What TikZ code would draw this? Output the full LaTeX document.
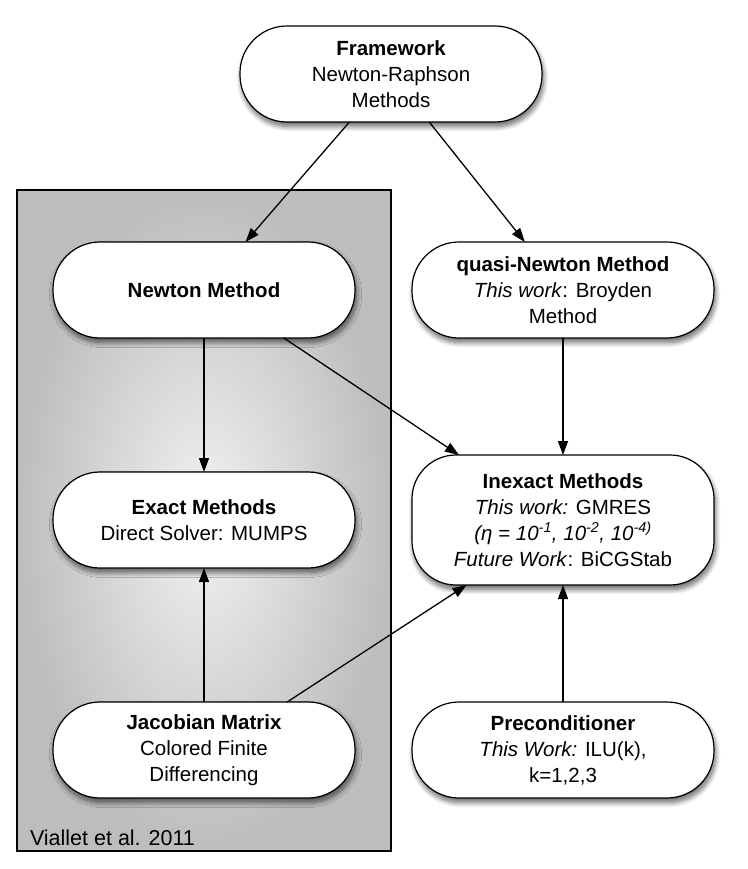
\documentclass[tikz,border=0pt]{standalone}
\usepackage{fontspec}
\setmainfont{Liberation Sans}
\usetikzlibrary{arrows.meta,shadows.blur}
\begin{document}
\begin{tikzpicture}[x=1pt,y=-1pt,
  every node/.style={inner sep=0pt,outer sep=0pt},
  pill/.style={draw=black,line width=1.2pt,fill=white,rounded corners=47pt,
    minimum width=302pt,minimum height=96pt,align=center,
    font=\fontsize{20.5}{26}\selectfont,
    blur shadow={shadow xshift=1.5pt,shadow yshift=-4.5pt,shadow blur radius=5pt,shadow blur steps=10,shadow opacity=60}},
  tallpill/.style={pill,minimum height=130pt,rounded corners=44pt},
  conn/.style={line width=1.3pt,-{Triangle[length=14pt,width=10pt]}},
  region/.style={draw=black,line width=1.2pt,inner color=gray!10,outer color=gray!52}
]
\useasboundingbox (0,0) rectangle (747,869);
\path[region] (17,190) rectangle (391,851);
\node[anchor=base west,font=\fontsize{21.5}{24}\selectfont] (lbl) at (30,845) {Viallet et al. 2011};

\node[pill] (fw) at (391,74) {\textbf{Framework}\\Newton-Raphson\\Methods};
\node[pill] (nm) at (204,290) {\textbf{Newton Method}};
\node[pill] (qn) at (563,290) {\textbf{quasi-Newton Method}\\\textit{This work}: Broyden\\Method};
\node[pill] (ex) at (204,520) {\textbf{Exact Methods}\\Direct Solver: MUMPS};
\node[tallpill] (in) at (563,520) {\textbf{Inexact Methods}\\\textit{This work:} GMRES\\\textit{(η = 10\textsuperscript{-1}, 10\textsuperscript{-2}, 10\textsuperscript{-4)}}\\\textit{Future Work}: BiCGStab};
\node[pill] (jm) at (204,750) {\textbf{Jacobian Matrix}\\Colored Finite\\Differencing};
\node[pill] (pc) at (563,750) {\textbf{Preconditioner}\\\textit{This Work:} ILU(k),\\k=1,2,3};

\draw[conn] (fw) -- (nm);
\draw[conn] (fw) -- (qn);
\draw[conn] (nm) -- (ex);
\draw[conn] (nm.-31) -- (in.148);
\draw[conn] (qn) -- (in);
\draw[conn] (jm) -- (ex);
\draw[conn] (jm.30) -- (in.-146);
\draw[conn] (pc) -- (in);
\end{tikzpicture}
\end{document}
